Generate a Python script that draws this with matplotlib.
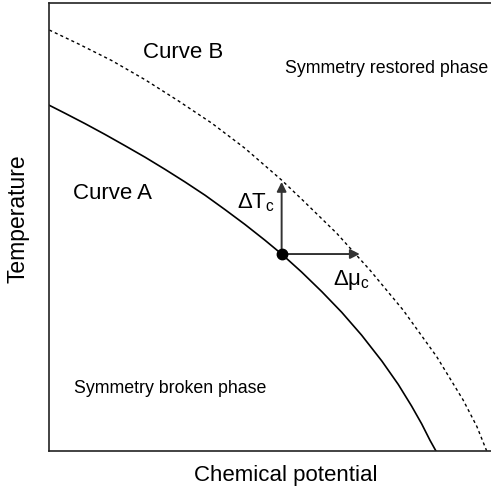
import matplotlib
matplotlib.use('Agg')
import matplotlib.pyplot as plt

plt.rcParams['font.family'] = ['Liberation Sans', 'DejaVu Sans']
plt.rcParams['mathtext.fontset'] = 'custom'
plt.rcParams['mathtext.rm'] = 'Liberation Sans'
plt.rcParams['mathtext.it'] = 'Liberation Sans:italic'

# curve A (solid): critical line
mu_a = [0.0, 0.036, 0.081, 0.126, 0.171, 0.217, 0.262, 0.307, 0.353,
        0.398, 0.443, 0.488, 0.526, 0.571, 0.617, 0.662, 0.707, 0.753,
        0.790, 0.820, 0.843, 0.862, 0.875]
t_a = [0.771, 0.753, 0.730, 0.706, 0.681, 0.655, 0.628, 0.600, 0.570,
       0.538, 0.505, 0.470, 0.439, 0.399, 0.355, 0.309, 0.258, 0.200,
       0.148, 0.100, 0.060, 0.023, 0.0]

# curve B (dotted)
mu_b = [0.0, 0.066, 0.141, 0.217, 0.292, 0.368, 0.443, 0.526, 0.575,
        0.651, 0.726, 0.801, 0.877, 0.937, 0.968, 0.990]
t_b = [0.939, 0.908, 0.871, 0.828, 0.781, 0.731, 0.675, 0.604, 0.558,
       0.485, 0.403, 0.314, 0.210, 0.113, 0.054, 0.0]

# point on curve A and the two shifts
point = (0.526, 0.439)
shift_t = 0.600
shift_mu = 0.703

fig = plt.figure(figsize=(4.91, 4.94), dpi=100)
ax = fig.add_axes([49.3 / 491, 43.3 / 494, 441.7 / 491, 448 / 494])

ax.plot(mu_a, t_a, color='k', lw=1.2)
ax.plot(mu_b, t_b, color='k', lw=1.0, linestyle=(0, (2.2, 2.2)))

ax.annotate('', xy=(point[0], shift_t), xytext=point,
            arrowprops=dict(arrowstyle='-|>', color='#333333', lw=1.4,
                            mutation_scale=14, shrinkA=0, shrinkB=0))
ax.annotate('', xy=(shift_mu, point[1]), xytext=point,
            arrowprops=dict(arrowstyle='-|>', color='#333333', lw=1.4,
                            mutation_scale=14, shrinkA=0, shrinkB=0))
ax.plot(point[0], point[1], 'o', color='k', markersize=7.5, zorder=5)

ax.text(0.303, 0.888, 'Curve B', fontsize=16, ha='center', va='center')
ax.text(0.144, 0.575, 'Curve A', fontsize=16, ha='center', va='center')
ax.text(0.764, 0.854, 'Symmetry restored phase', fontsize=12.8,
        ha='center', va='center')
ax.text(0.273, 0.139, 'Symmetry broken phase', fontsize=12.8,
        ha='center', va='center')
ax.text(0.468, 0.553, r'$\mathrm{\Delta T_c}$', fontsize=16,
        ha='center', va='center')
ax.text(0.685, 0.381, r'$\mathrm{\Delta \mu_c}$', fontsize=16,
        ha='center', va='center')

ax.set_xlim(0, 1)
ax.set_ylim(0, 1)
ax.set_xticks([])
ax.set_yticks([])
ax.spines['right'].set_visible(False)
for s in ['left', 'bottom', 'top']:
    ax.spines[s].set_linewidth(1.2)
    ax.spines[s].set_color('#222222')

fig.text(286 / 491, 1 - 475 / 494, 'Chemical potential', fontsize=16,
         ha='center', va='center')
fig.text(18 / 491, 1 - 218.5 / 494, 'Temperature', fontsize=16.5,
         ha='center', va='center', rotation=90)

fig.savefig('out.png', dpi=100)
